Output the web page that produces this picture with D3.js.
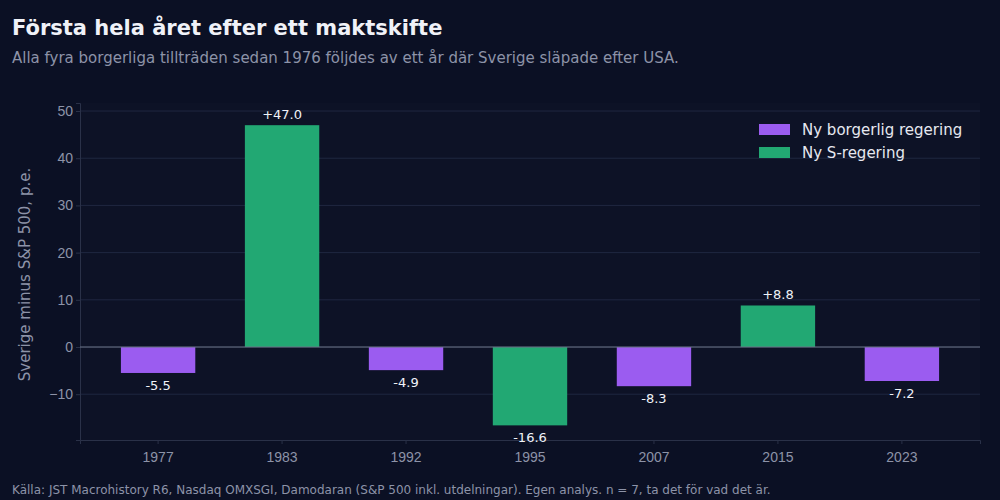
<!DOCTYPE html>
<html lang="sv">
<head>
<meta charset="UTF-8">
<script src="https://d3js.org/d3.v7.min.js"></script>
<style>
  body { margin: 0; background: #0b1024; font-family: "DejaVu Sans", Arial, sans-serif; }
</style>
</head>
<body>
<svg id="chart" width="1000" height="500"></svg>
<script>
const years = ["1977", "1983", "1992", "1995", "2007", "2015", "2023"];
const diffs = [-5.5, 47.0, -4.9, -16.6, -8.3, 8.8, -7.2];
const govType = ["B", "S", "B", "S", "B", "S", "B"];
const legendLabels = ["Ny borgerlig regering", "Ny S-regering"];
const yTicks = [-10, 0, 10, 20, 30, 40, 50];

const colors = { B: "#9b5cf0", S: "#22a873" };
const svg = d3.select("#chart");
const plotLeft = 80, plotRight = 980, plotTop = 103, plotBottom = 440;

const x = d3.scaleBand().domain(years).range([plotLeft, plotRight]).paddingInner(0.4).paddingOuter(0.33);
const y = d3.scaleLinear().domain([-19.7, 51.7]).range([plotBottom, plotTop]);

svg.append("rect").attr("width", 1000).attr("height", 500).attr("fill", "#0b1024");
svg.append("rect").attr("x", plotLeft).attr("y", plotTop).attr("width", plotRight - plotLeft).attr("height", plotBottom - plotTop).attr("fill", "#0d1226");

// grid
svg.append("g").selectAll("line").data(yTicks).join("line")
  .attr("x1", plotLeft).attr("x2", plotRight)
  .attr("y1", d => y(d)).attr("y2", d => y(d))
  .attr("stroke", "#1f2740").attr("stroke-width", 1);

// axes
const yAxis = svg.append("g").attr("transform", `translate(${plotLeft},0)`)
  .call(d3.axisLeft(y).tickValues(yTicks).tickFormat(d => d < 0 ? "\u2212" + Math.abs(d) : d).tickSize(4));
yAxis.select(".domain").attr("stroke", "#2a3148");
yAxis.selectAll(".tick line").attr("stroke", "#2a3148");
yAxis.selectAll("text").attr("fill", "#8d93a8").attr("font-size", 14);

const xAxis = svg.append("g").attr("transform", `translate(0,${plotBottom})`)
  .call(d3.axisBottom(x).tickSize(4));
xAxis.select(".domain").attr("stroke", "#2a3148");
xAxis.selectAll(".tick line").attr("stroke", "#2a3148");
xAxis.selectAll("text").attr("fill", "#8d93a8").attr("font-size", 14).attr("dy", "1.1em");

// bars
svg.append("g").selectAll("rect").data(years).join("rect")
  .attr("x", d => x(d)).attr("width", x.bandwidth())
  .attr("y", (d, i) => y(Math.max(0, diffs[i])))
  .attr("height", (d, i) => Math.abs(y(diffs[i]) - y(0)))
  .attr("fill", (d, i) => colors[govType[i]]);

// zero line
svg.append("line").attr("x1", plotLeft).attr("x2", plotRight).attr("y1", y(0)).attr("y2", y(0))
  .attr("stroke", "#6b7286").attr("stroke-width", 1);

// value labels
svg.append("g").selectAll("text").data(years).join("text")
  .attr("x", d => x(d) + x.bandwidth() / 2)
  .attr("y", (d, i) => diffs[i] >= 0 ? y(diffs[i]) - 6 : y(diffs[i]) + 17)
  .attr("text-anchor", "middle").attr("fill", "#f0f2f8").attr("font-size", 13)
  .text((d, i) => (diffs[i] > 0 ? "+" : "") + diffs[i].toFixed(1));

// y label
svg.append("text").attr("transform", `translate(30,${(plotTop + plotBottom) / 2 + 3}) rotate(-90)`)
  .attr("text-anchor", "middle").attr("fill", "#8d93a8").attr("font-size", 15)
  .text("Sverige minus S&P 500, p.e.");

// legend
const lg = svg.append("g").selectAll("g").data(legendLabels).join("g")
  .attr("transform", (d, i) => `translate(759,${124 + i * 23})`);
lg.append("rect").attr("width", 31).attr("height", 11).attr("fill", (d, i) => colors[i === 0 ? "B" : "S"]);
lg.append("text").attr("x", 43).attr("y", 11).attr("fill", "#e6e8f0").attr("font-size", 15).text(d => d);

// titles
svg.append("text").attr("x", 12).attr("y", 35).attr("fill", "#f0f2f8").attr("font-size", 21).attr("font-weight", "bold")
  .text("Första hela året efter ett maktskifte");
svg.append("text").attr("x", 12).attr("y", 63).attr("fill", "#8d93a8").attr("font-size", 15)
  .text("Alla fyra borgerliga tillträden sedan 1976 följdes av ett år där Sverige släpade efter USA.");
svg.append("text").attr("x", 12).attr("y", 494).attr("fill", "#8d93a8").attr("font-size", 12)
  .text("Källa: JST Macrohistory R6, Nasdaq OMXSGI, Damodaran (S&P 500 inkl. utdelningar). Egen analys. n = 7, ta det för vad det är.");
</script>
</body>
</html>
